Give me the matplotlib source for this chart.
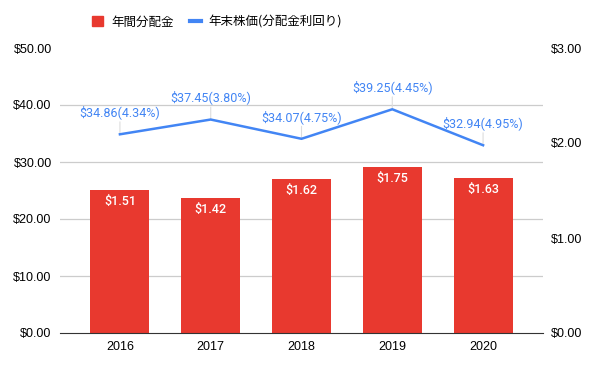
import numpy as np
import matplotlib.pyplot as plt
from matplotlib.patches import Patch
from matplotlib.lines import Line2D

years = ['2016', '2017', '2018', '2019', '2020']
dividends = [1.51, 1.42, 1.62, 1.75, 1.63]
prices = [34.86, 37.45, 34.07, 39.25, 32.94]
yields = [4.34, 3.80, 4.75, 4.45, 4.95]

RED = '#E8392F'
BLUE = '#4285F4'

plt.rcParams['font.family'] = ['Liberation Sans', 'Noto Sans CJK JP']

fig = plt.figure(figsize=(5.96, 3.66), dpi=100)
ax = fig.add_axes([60 / 596, 33 / 366, 483 / 596, 285 / 366])
x = np.arange(len(years))

# bars on the right-hand axis
ax.bar(x, dividends, width=0.65, color=RED, zorder=2)
ax.set_ylim(0, 3)
ax.set_xlim(-0.66, 4.66)
ax.set_xticks(x)
ax.set_xticklabels(years)
ax.tick_params(axis='x', length=0, labelsize=9, pad=6)
for s in ['top', 'left', 'right']:
    ax.spines[s].set_visible(False)
ax.spines['bottom'].set_color('#333333')
ax.spines['bottom'].set_zorder(3)
for xi, d in zip(x, dividends):
    ax.annotate('$%.2f' % d, (xi, d), xytext=(0, -8.5), textcoords='offset points',
                ha='center', va='center', color='white', fontsize=9,
                family='Roboto', weight='medium', zorder=3)

# line on the left-hand axis
ax2 = ax.twinx()
ax2.plot(x, prices, color=BLUE, lw=1.8, zorder=4)
ax2.set_ylim(0, 50)
for s in ax2.spines.values():
    s.set_visible(False)
for xi, p, yl in zip(x, prices, yields):
    ax2.annotate('$%.2f(%.2f%%)' % (p, yl), (xi, p), xytext=(0, 16),
                 textcoords='offset points', ha='center', va='center',
                 color=BLUE, fontsize=9, family='Roboto',
                 arrowprops=dict(arrowstyle='-', color='#DDDDDD', lw=0.8,
                                 shrinkA=0, shrinkB=0))

# axis sides: price on the left, dividend on the right
ax2.yaxis.tick_left()
ax2.yaxis.set_label_position('left')
ax2.set_yticks(np.arange(0, 51, 10))
ax2.set_yticklabels(['$%.2f' % v for v in np.arange(0, 51, 10)])
ax2.tick_params(axis='y', length=0, labelsize=9, pad=6, right=False,
                labelright=False, left=True, labelleft=True)

ax.yaxis.tick_right()
ax.set_yticks([0, 1, 2, 3])
ax.set_yticklabels(['$%.2f' % v for v in [0, 1, 2, 3]])
ax.set_yticks(np.arange(0, 3.01, 0.6), minor=True)
ax.tick_params(axis='y', which='both', length=0, labelsize=9, pad=6,
               left=False, labelleft=False, right=True, labelright=True)
ax.tick_params(axis='y', which='minor', labelright=False)
ax.grid(axis='y', which='minor', color='#CCCCCC', lw=0.9, zorder=0)
ax.set_axisbelow(True)

handles = [Patch(color=RED), Line2D([], [], color=BLUE, lw=3)]
fig.legend(handles, ['年間分配金', '年末株価(分配金利回り)'], loc='center',
           bbox_to_anchor=(217 / 596, 1 - 22 / 366), ncol=2, frameon=False,
           handlelength=0.9, handleheight=0.9, columnspacing=1.3,
           handletextpad=0.6, prop={'family': ['Noto Sans CJK JP'], 'size': 9})

fig.savefig('out.png', dpi=100)
